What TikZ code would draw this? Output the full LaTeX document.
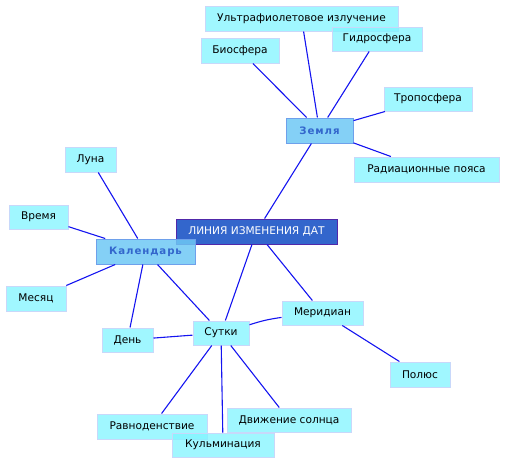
\documentclass[tikz,border=0pt]{standalone}
\usepackage{fontspec}
\setmainfont{DejaVu Sans}
\newfontfamily\spacedbold[LetterSpace=9]{DejaVu Sans}
\definecolor{leaffill}{RGB}{128,244,255}
\definecolor{leafborder}{RGB}{200,216,250}
\definecolor{midfill}{RGB}{110,200,245}
\definecolor{midborder}{RGB}{110,160,235}
\definecolor{midtext}{RGB}{51,102,204}
\definecolor{corefill}{RGB}{51,102,204}
\definecolor{coreborder}{RGB}{80,40,170}
\definecolor{linkblue}{RGB}{20,20,240}
\tikzset{
  leaf/.style={draw=leafborder, fill=leaffill, fill opacity=0.75, text opacity=1,
    line width=1pt, inner sep=0pt, font=\fontsize{10.6}{12}\selectfont, text=black},
  mid/.style={draw=midborder, fill=midfill, fill opacity=0.85, text opacity=1,
    line width=1pt, inner sep=0pt, font=\spacedbold\bfseries\fontsize{10.2}{12}\selectfont, text=midtext},
  core/.style={draw=coreborder, fill=corefill, line width=1pt, inner sep=0pt,
    font=\fontsize{10.6}{12}\selectfont, text=white},
  conn/.style={draw=linkblue, line width=1.1pt}
}
\begin{document}
\begin{tikzpicture}[x=1pt,y=-1pt]
\useasboundingbox (0,0) rectangle (505,464);
% nodes
\node[leaf, minimum width=193pt, minimum height=25pt] (uv) at (301.5,18.5) {Ультрафиолетовое излучение};
\node[leaf, minimum width=90pt, minimum height=24pt] (gidro) at (377,39) {Гидросфера};
\node[leaf, minimum width=78pt, minimum height=25pt] (bio) at (240,50.5) {Биосфера};
\node[leaf, minimum width=88pt, minimum height=24pt] (tropo) at (428,99) {Тропосфера};
\node[mid, minimum width=67pt, minimum height=25pt] (zemlya) at (319.5,130.5) {Земля};
\node[leaf, minimum width=145pt, minimum height=25pt] (rad) at (426.5,169.5) {Радиационные пояса};
\node[leaf, minimum width=51pt, minimum height=25pt] (luna) at (90.5,159.5) {Луна};
\node[leaf, minimum width=59pt, minimum height=24pt] (vremya) at (38.5,217) {Время};
\node[core, minimum width=161pt, minimum height=25pt] (core) at (256.5,231.5) {ЛИНИЯ ИЗМЕНЕНИЯ ДАТ};
\node[mid, minimum width=99pt, minimum height=25pt] (kal) at (145.5,251.5) {Календарь};
\node[leaf, minimum width=60pt, minimum height=25pt] (mesyac) at (36,298.5) {Месяц};
\node[leaf, minimum width=81pt, minimum height=24pt] (merid) at (322.5,313) {Меридиан};
\node[leaf, minimum width=56pt, minimum height=24pt] (sutki) at (221,333) {Сутки};
\node[leaf, minimum width=51pt, minimum height=24pt] (den) at (127.5,340) {День};
\node[leaf, minimum width=60pt, minimum height=25pt] (polus) at (420,374.5) {Полюс};
\node[leaf, minimum width=110pt, minimum height=25pt] (ravn) at (152,426.5) {Равноденствие};
\node[leaf, minimum width=124pt, minimum height=24pt] (dvizh) at (289,420) {Движение солнца};
\node[leaf, minimum width=102pt, minimum height=24pt] (kulm) at (223,445) {Кульминация};
% connectors
\draw[conn] (zemlya) -- (bio);
\draw[conn] (zemlya) -- (uv);
\draw[conn] (zemlya) -- (gidro);
\draw[conn] (zemlya) -- (tropo);
\draw[conn] (zemlya) -- (rad);
\draw[conn] (core) -- (zemlya);
\draw[conn] (kal) -- (luna);
\draw[conn] (kal) -- (vremya);
\draw[conn] (kal) -- (mesyac);
\draw[conn] (kal) -- (den);
\draw[conn] (kal) -- (sutki);
\draw[conn] (core) -- (sutki);
\draw[conn] (core) -- (merid);
\draw[conn] (sutki) to[bend left=5] (merid);
\draw[conn] (sutki) -- (den);
\draw[conn] (merid) -- (polus);
\draw[conn] (sutki) -- (ravn);
\draw[conn] (sutki) -- (kulm);
\draw[conn] (sutki) -- (dvizh);
\end{tikzpicture}
\end{document}
